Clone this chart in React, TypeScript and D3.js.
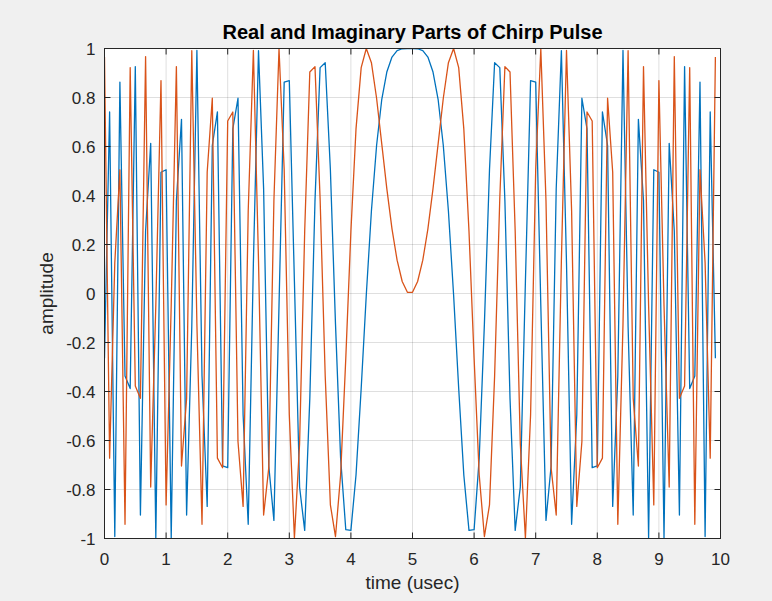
import React from 'react';
import * as d3 from 'd3';

// Sample times (usec)
const timeUs = [
  0, 0.083, 0.167, 0.25, 0.333, 0.417, 0.5, 0.583, 0.667, 0.75,
  0.833, 0.917, 1, 1.083, 1.167, 1.25, 1.333, 1.417, 1.5, 1.583,
  1.667, 1.75, 1.833, 1.917, 2, 2.083, 2.167, 2.25, 2.333, 2.417,
  2.5, 2.583, 2.667, 2.75, 2.833, 2.917, 3, 3.083, 3.167, 3.25,
  3.333, 3.417, 3.5, 3.583, 3.667, 3.75, 3.833, 3.917, 4, 4.083,
  4.167, 4.25, 4.333, 4.417, 4.5, 4.583, 4.667, 4.75, 4.833, 4.917,
  5, 5.083, 5.167, 5.25, 5.333, 5.417, 5.5, 5.583, 5.667, 5.75,
  5.833, 5.917, 6, 6.083, 6.167, 6.25, 6.333, 6.417, 6.5, 6.583,
  6.667, 6.75, 6.833, 6.917, 7, 7.083, 7.167, 7.25, 7.333, 7.417,
  7.5, 7.583, 7.667, 7.75, 7.833, 7.917, 8, 8.083, 8.167, 8.25,
  8.333, 8.417, 8.5, 8.583, 8.667, 8.75, 8.833, 8.917, 9, 9.083,
  9.167, 9.25, 9.333, 9.417, 9.5, 9.583, 9.667, 9.75, 9.833, 9.917,
];

// Real part (blue)
const realPart = [
  -0.264, 0.741, -0.992, 0.863, -0.337, -0.388, 0.926, -0.904, 0.254, 0.613,
  -0.999, 0.495, 0.505, -0.999, 0.378, 0.711, -0.904, -0.136, 0.992, -0.337,
  -0.869, 0.604, 0.741, -0.704, -0.711, 0.672, 0.797, -0.495, -0.942, 0.125,
  0.991, 0.428, -0.704, -0.926, -0.049, 0.863, 0.869, 0.049, -0.79, -0.967,
  -0.428, 0.378, 0.922, 0.942, 0.505, -0.125, -0.672, -0.964, -0.967, -0.741,
  -0.388, -0.005, 0.337, 0.604, 0.79, 0.904, 0.965, 0.991, 0.999, 1.0,
  1.0, 0.999, 0.991, 0.965, 0.904, 0.79, 0.604, 0.337, -0.005, -0.388,
  -0.741, -0.967, -0.964, -0.672, -0.125, 0.505, 0.942, 0.922, 0.378, -0.428,
  -0.967, -0.79, 0.049, 0.869, 0.863, -0.049, -0.926, -0.704, 0.428, 0.991,
  0.125, -0.942, -0.495, 0.797, 0.672, -0.711, -0.704, 0.741, 0.604, -0.869,
  -0.337, 0.992, -0.136, -0.904, 0.711, 0.378, -0.999, 0.505, 0.495, -0.999,
  0.613, 0.254, -0.904, 0.926, -0.388, -0.337, 0.863, -0.992, 0.741, -0.264,
];

// Imaginary part (orange)
const imagPart = [
  0.965, -0.672, 0.125, 0.505, -0.942, 0.922, -0.378, -0.428, 0.967, -0.79,
  -0.049, 0.869, -0.863, -0.049, 0.926, -0.704, -0.428, 0.991, -0.125, -0.942,
  0.495, 0.797, -0.672, -0.711, 0.704, 0.741, -0.604, -0.869, 0.337, 0.992,
  0.136, -0.904, -0.711, 0.378, 0.999, 0.505, -0.495, -0.999, -0.613, 0.254,
  0.904, 0.926, 0.388, -0.337, -0.863, -0.992, -0.741, -0.264, 0.254, 0.672,
  0.922, 1.0, 0.942, 0.797, 0.613, 0.428, 0.264, 0.136, 0.049, 0.005,
  0.005, 0.049, 0.136, 0.264, 0.428, 0.613, 0.797, 0.942, 1.0, 0.922,
  0.672, 0.254, -0.264, -0.741, -0.992, -0.863, -0.337, 0.388, 0.926, 0.904,
  0.254, -0.613, -0.999, -0.495, 0.505, 0.999, 0.378, -0.711, -0.904, 0.136,
  0.992, 0.337, -0.869, -0.604, 0.741, 0.704, -0.711, -0.672, 0.797, 0.495,
  -0.942, -0.125, 0.991, -0.428, -0.704, 0.926, -0.049, -0.863, 0.869, -0.049,
  -0.79, 0.967, -0.428, -0.378, 0.922, -0.942, 0.505, 0.125, -0.672, 0.965,
];

const xTicks = [0, 1, 2, 3, 4, 5, 6, 7, 8, 9, 10];
const xTickLabels = ['0', '1', '2', '3', '4', '5', '6', '7', '8', '9', '10'];
const yTicks = [-1, -0.8, -0.6, -0.4, -0.2, 0, 0.2, 0.4, 0.6, 0.8, 1];
const yTickLabels = ['-1', '-0.8', '-0.6', '-0.4', '-0.2', '0', '0.2', '0.4', '0.6', '0.8', '1'];

const titleText = 'Real and Imaginary Parts of Chirp Pulse';
const xLabelText = 'time (usec)';
const yLabelText = 'amplitude';

const FONT = '"Liberation Sans", Arial, Helvetica, sans-serif';
const AXIS = '#262626';

export default function App() {
  const W = 772;
  const H = 601;
  const left = 104.5;
  const right = 720.5;
  const top = 48.5;
  const bottom = 538.5;
  const tickLen = 6;

  const x = d3.scaleLinear().domain([0, 10]).range([left, right]);
  const y = d3.scaleLinear().domain([-1, 1]).range([bottom, top]);

  const lineGen = (vals: number[]) =>
    d3
      .line<number>()
      .x((_, i) => x(timeUs[i]))
      .y((d) => y(d))(vals) || '';

  return (
    <svg
      width={W}
      height={H}
      style={{ position: 'absolute', left: 0, top: 0, display: 'block' }}
      fontFamily={FONT}
    >
      <rect x={0} y={0} width={W} height={H} fill="#f0f0f0" />
      <rect x={left} y={top} width={right - left} height={bottom - top} fill="#ffffff" />
      <defs>
        <clipPath id="plotclip">
          <rect x={left} y={top} width={right - left} height={bottom - top} />
        </clipPath>
      </defs>
      {/* grid */}
      <g stroke={AXIS} strokeOpacity={0.15} strokeWidth={1}>
        {xTicks.slice(1, -1).map((t) => (
          <line key={'gx' + t} x1={x(t)} x2={x(t)} y1={top} y2={bottom} />
        ))}
        {yTicks.slice(1, -1).map((t) => (
          <line key={'gy' + t} x1={left} x2={right} y1={y(t)} y2={y(t)} />
        ))}
      </g>
      {/* data */}
      <g clipPath="url(#plotclip)" fill="none" strokeWidth={1.3} strokeLinejoin="round">
        <path d={lineGen(realPart)} stroke="#0072BD" />
        <path d={lineGen(imagPart)} stroke="#D95319" />
      </g>
      {/* box */}
      <rect
        x={left}
        y={top}
        width={right - left}
        height={bottom - top}
        fill="none"
        stroke={AXIS}
        strokeWidth={1}
      />
      {/* ticks */}
      <g stroke={AXIS} strokeWidth={1}>
        {xTicks.map((t) => (
          <g key={'tx' + t}>
            <line x1={x(t)} x2={x(t)} y1={bottom} y2={bottom - tickLen} />
            <line x1={x(t)} x2={x(t)} y1={top} y2={top + tickLen} />
          </g>
        ))}
        {yTicks.map((t) => (
          <g key={'ty' + t}>
            <line x1={left} x2={left + tickLen} y1={y(t)} y2={y(t)} />
            <line x1={right} x2={right - tickLen} y1={y(t)} y2={y(t)} />
          </g>
        ))}
      </g>
      {/* tick labels */}
      <g fill={AXIS} fontSize={17}>
        {xTicks.map((t, i) => (
          <text key={'lx' + t} x={x(t)} y={bottom + 26} textAnchor="middle">
            {xTickLabels[i]}
          </text>
        ))}
        {yTicks.map((t, i) => (
          <text key={'ly' + t} x={left - 9} y={y(t) + 6} textAnchor="end">
            {yTickLabels[i]}
          </text>
        ))}
      </g>
      <text x={(left + right) / 2} y={589} textAnchor="middle" fontSize={19} fill={AXIS}>
        {xLabelText}
      </text>
      <text
        transform={`translate(53, ${(top + bottom) / 2}) rotate(-90)`}
        textAnchor="middle"
        fontSize={19}
        fill={AXIS}
      >
        {yLabelText}
      </text>
      <text
        x={(left + right) / 2}
        y={39}
        textAnchor="middle"
        fontSize={20}
        fontWeight="bold"
        fill="#000000"
      >
        {titleText}
      </text>
    </svg>
  );
}
